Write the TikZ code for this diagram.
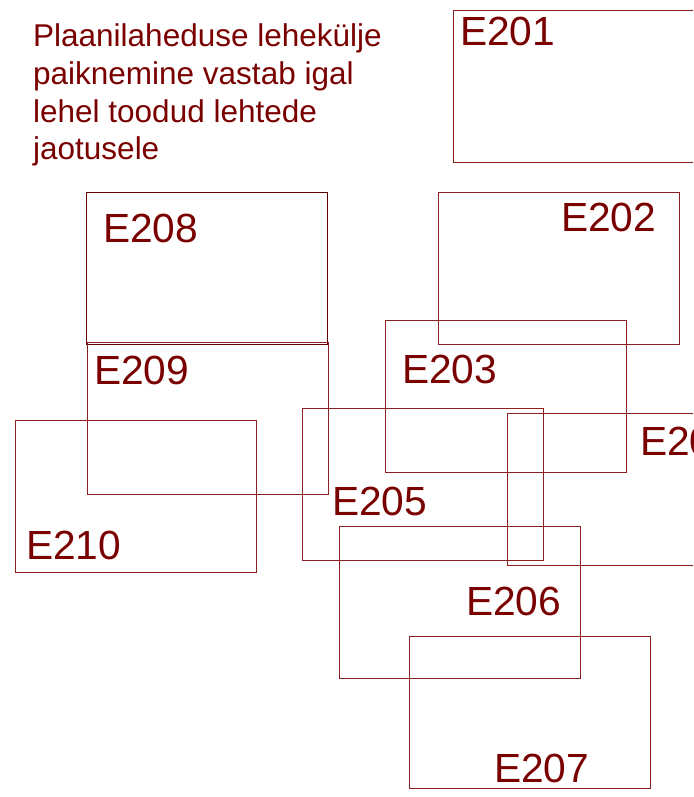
\documentclass[tikz,border=0pt]{standalone}
\usepackage{fontspec}
\setmainfont{Liberation Sans}
\definecolor{dred}{HTML}{7A0000}
\definecolor{bline}{HTML}{8A2020}
\begin{document}
\begin{tikzpicture}[x=1pt,y=-1pt,
  sheet/.style={draw=bline,line width=0.9pt,inner sep=0,anchor=north west,minimum width=241pt,minimum height=152pt},
  lbl/.style={text=dred,inner sep=0,anchor=base west,font=\fontsize{40.7}{48}\selectfont},
  para/.style={text=dred,inner sep=0,anchor=base west,font=\fontsize{31.5}{37.5}\selectfont}]
\useasboundingbox (0,0) rectangle (693,797);
\clip (0,0) rectangle (693,797);
% sheets
\node[sheet] (s201) at (453,10) {};
\node[sheet] (s202) at (438,192) {};
\node[sheet] (s203) at (385,320) {};
\node[sheet] (s204) at (507,413) {};
\node[sheet] (s205) at (302,408) {};
\node[sheet] (s206) at (339,526) {};
\node[sheet] (s207) at (409,636) {};
\node[sheet,draw=dred!80!black] (s208) at (86,192) {};
\node[sheet] (s209) at (87,342) {};
\node[sheet] (s210) at (15,420) {};
% labels
\node[lbl] (l201) at (460,46) {E201};
\node[lbl] (l202) at (561,231) {E202};
\node[lbl] (l203) at (402,383) {E203};
\node[lbl] (l204) at (640,455) {E204};
\node[lbl] (l205) at (332,515) {E205};
\node[lbl] (l206) at (466,615) {E206};
\node[lbl] (l207) at (494,782) {E207};
\node[lbl] (l208) at (103,242) {E208};
\node[lbl] (l209) at (94,384) {E209};
\node[lbl] (l210) at (26,559) {E210};
% caption
\node[para] (p1) at (33,47) {Plaanilaheduse lehekülje};
\node[para] (p2) at (33,84.5) {paiknemine vastab igal};
\node[para] (p3) at (33,122) {lehel toodud lehtede};
\node[para] (p4) at (33,159.5) {jaotusele};
\end{tikzpicture}
\end{document}
